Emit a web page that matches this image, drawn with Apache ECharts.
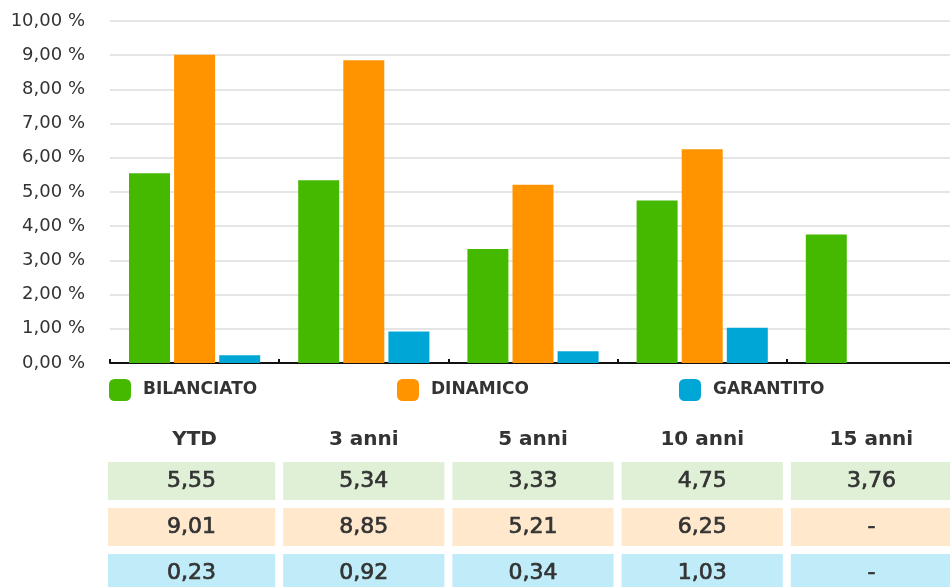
<!DOCTYPE html>
<html>
<head>
<meta charset="utf-8">
<script src="https://cdn.jsdelivr.net/npm/echarts@6/dist/echarts.min.js"></script>
<style>
  html, body { margin: 0; padding: 0; background: #fff; }
  #chart { width: 950px; height: 587px; }
</style>
</head>
<body>
<div id="chart"></div>
<script>
var periods = ['YTD', '3 anni', '5 anni', '10 anni', '15 anni'];
var seriesNames = ['BILANCIATO', 'DINAMICO', 'GARANTITO'];
var bilanciato = [5.55, 5.34, 3.33, 4.75, 3.76];
var dinamico = [9.01, 8.85, 5.21, 6.25, null];
var garantito = [0.23, 0.92, 0.34, 1.03, null];
var yTicks = [0, 1, 2, 3, 4, 5, 6, 7, 8, 9, 10];

(function () {
  var chart = echarts.init(document.getElementById('chart'));
  var font = '"DejaVu Sans", sans-serif';
  var barColors = ['#45b800', '#ff9300', '#00a7d6'];
  var cellColors = ['#dff0d6', '#ffe8cc', '#bfecf8'];
  var values = [bilanciato, dinamico, garantito];

  function fmt(v) {
    if (v === null || v === undefined) return '-';
    return v.toFixed(2).replace('.', ',');
  }

  // table cells: [column, row, value]
  var cells = [];
  values.forEach(function (arr, r) {
    arr.forEach(function (v, c) { cells.push([c, r, v]); });
  });

  function renderCell(params, api) {
    var c = api.value(0), r = api.value(1);
    var center = api.coord([c, r]);
    var w = api.size([1, 0])[0] - 8;
    var h = api.size([0, 1])[1] - 8;
    var x = center[0] - w / 2;
    if (c === 0) { x -= 6; w += 6; } // first column a bit wider
    var v = cells[params.dataIndex][2];
    return {
      type: 'rect',
      shape: { x: x, y: center[1] - h / 2, width: w, height: h },
      style: { fill: cellColors[r] },
      textContent: {
        style: { text: fmt(v), fill: '#333', fontSize: 22, fontFamily: font, stroke: '#333', lineWidth: 0.7 }
      },
      textConfig: { position: 'inside' }
    };
  }

  var legends = seriesNames.map(function (n, i) {
    return {
      data: [n],
      left: [109, 397, 679][i],
      top: 379,
      padding: 0,
      itemWidth: 22,
      itemHeight: 22,
      icon: 'roundRect',
      textStyle: { color: '#333', fontSize: 17, fontWeight: 'bold', fontFamily: font, padding: [0, 0, 0, 7] }
    };
  });

  var option = {
    backgroundColor: '#fff',
    animation: false,
    legend: legends,
    grid: [
      { left: 110, width: 846, top: 21, height: 342, outerBoundsMode: 'none' },
      { left: 110, width: 846, top: 458, height: 138, outerBoundsMode: 'none' }
    ],
    xAxis: [
      {
        type: 'category', gridIndex: 0, data: periods,
        axisLine: { lineStyle: { color: '#111', width: 2 } },
        axisTick: { show: true, inside: true, length: 4, lineStyle: { color: '#111', width: 2 } },
        axisLabel: { show: false },
        splitLine: { show: false }
      },
      {
        type: 'category', gridIndex: 1, data: periods, position: 'top',
        axisLine: { show: false },
        axisTick: { show: false },
        axisLabel: { color: '#333', fontSize: 20, fontWeight: 'bold', fontFamily: font, margin: 8 }
      }
    ],
    yAxis: [
      {
        type: 'value', gridIndex: 0, min: 0, max: 10, interval: 1,
        axisLine: { show: false },
        axisTick: { show: false },
        axisLabel: {
          color: '#333', fontSize: 18, fontFamily: font, margin: 25,
          formatter: function (v) { return fmt(v) + ' %'; }
        },
        splitLine: { lineStyle: { color: '#dcdcdc', width: 1.5 } }
      },
      {
        type: 'category', gridIndex: 1, data: seriesNames, inverse: true,
        show: false
      }
    ],
    series: seriesNames.map(function (n, i) {
      return {
        name: n, type: 'bar', xAxisIndex: 0, yAxisIndex: 0,
        data: values[i], barWidth: 41, barGap: '10%',
        itemStyle: { color: barColors[i] }
      };
    }).concat([{
      type: 'custom', xAxisIndex: 1, yAxisIndex: 1,
      data: cells.map(function (d) { return [d[0], d[1]]; }),
      renderItem: renderCell,
      silent: true
    }])
  };

  chart.setOption(option);
})();
</script>
</body>
</html>
